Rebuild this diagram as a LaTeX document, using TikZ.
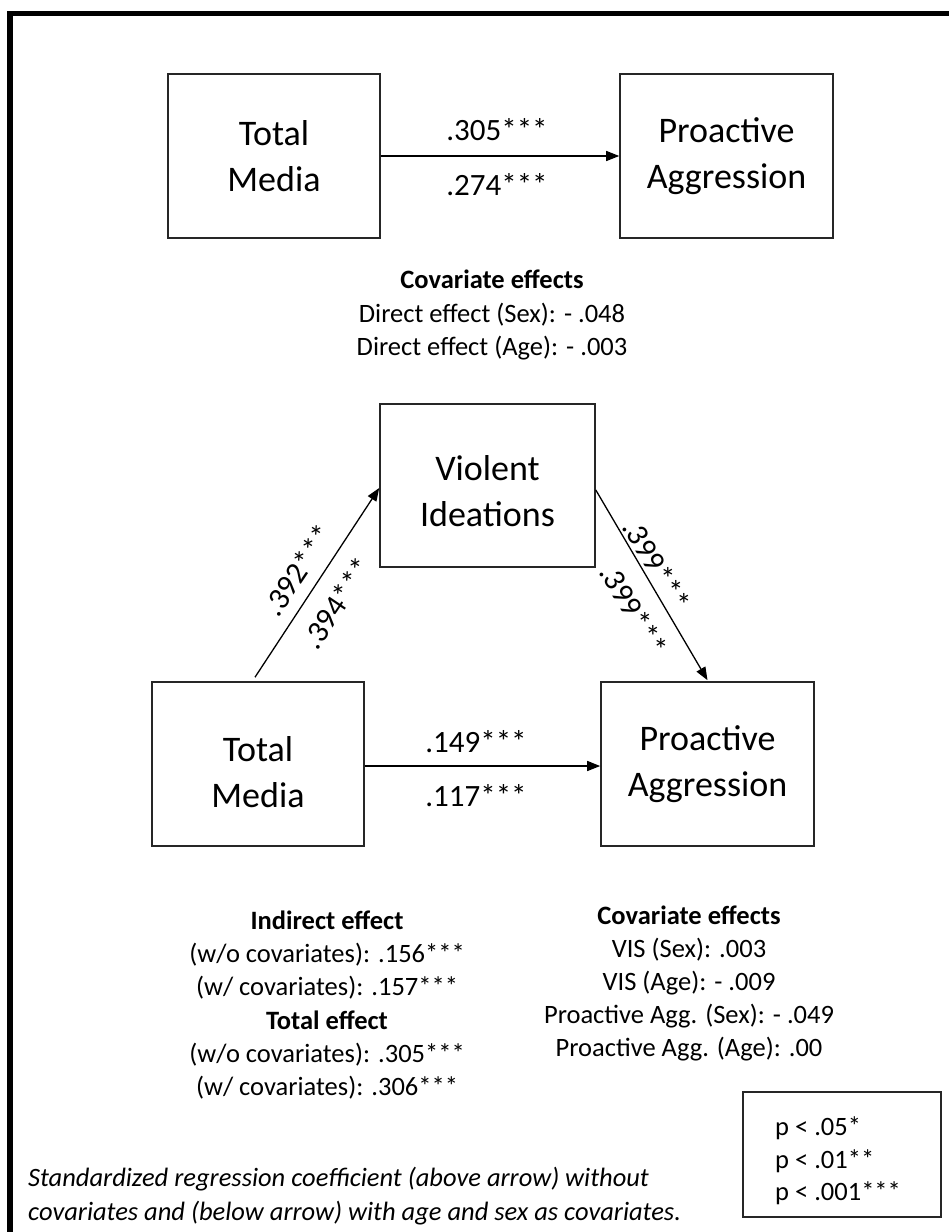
\documentclass[tikz,border=0pt]{standalone}
\usepackage{fontspec}
\setmainfont{Carlito}
\usetikzlibrary{arrows.meta}
\begin{document}
\begin{tikzpicture}[x=1pt,y=-1pt,
  box/.style={draw=black!85, line width=1.6pt, minimum width=212pt, minimum height=164pt,
    align=center, inner sep=0pt, font=\fontsize{36}{46}\selectfont},
  pathline/.style={-{Triangle[length=13pt,width=10pt]}, line width=1.3pt},
  coef/.style={inner sep=0pt, font=\fontsize{31}{36}\selectfont},
  note/.style={align=center, inner sep=0pt, font=\fontsize{26.5}{33.2}\selectfont}]
\useasboundingbox (0,0) rectangle (949,1232);
% outer frame (top and left edges)
\draw[line width=5.5pt, line join=miter] (10,1232) -- (10,13.7) -- (949,13.7);

% ---- total effect model ----
\node[box] (tm1) at (274,156) {Total\\Media};
\node[box, minimum width=213pt] (pa1) at (726.5,156) {Proactive\\Aggression};
\draw[pathline] (tm1.east) -- (pa1.west);
\node[coef] (c1a) at (497,130) {.305***};
\node[coef] (c1b) at (497,185) {.274***};
\node[note] (cov1) at (492,315) {\textbf{Covariate effects}\\Direct effect (Sex): - .048\\Direct effect (Age): - .003};

% ---- mediation model ----
\node[box, minimum width=215pt, minimum height=163pt] (vi) at (487.5,485.5) {\rule{0pt}{36pt}Violent\\Ideations};
\node[box] (tm2) at (258,764) {\rule{0pt}{42pt}Total\\Media};
\node[box, minimum width=213pt] (pa2) at (707.5,764) {Proactive\\Aggression};
\draw[pathline] ([xshift=-3pt,yshift=4pt]tm2.north) -- ([yshift=-2.5pt]vi.west);
\draw[pathline] ([yshift=-4.5pt]vi.east) -- ([yshift=1pt]pa2.north);
\draw[pathline] ([yshift=-2pt]tm2.east) -- ([yshift=-2pt]pa2.west);
\node[coef, rotate=56] (c2a) at (298,570) {.392***};
\node[coef, rotate=56] (c2b) at (337,603) {.394***};
\node[coef, rotate=-59] (c3a) at (657,565) {.399***};
\node[coef, rotate=-59] (c3b) at (634,610) {.399***};
\node[coef] (c4a) at (476,742) {.149***};
\node[coef] (c4b) at (476,796) {.117***};

\node[note] (ind) at (327,1005) {\textbf{Indirect effect}\\(w/o covariates): .156***\\(w/ covariates): .157***\\\textbf{Total effect}\\(w/o covariates): .305***\\(w/ covariates): .306***};
\node[note] (cov2) at (689,983.5) {\textbf{Covariate effects}\\VIS (Sex): .003\\VIS (Age): - .009\\Proactive Agg. (Sex): - .049\\Proactive Agg. (Age): .00};

% significance key
\node[draw=black!85, line width=1.6pt, minimum width=198pt, minimum height=125pt, inner sep=0pt] (key) at (842,1154.5) {};
\node[anchor=west, align=left, inner sep=0pt, font=\fontsize{26.5}{32.5}\selectfont] (keytext) at (775,1161) {p < .05*\\p < .01**\\p < .001***};

% footnote
\node[anchor=west, align=left, inner sep=0pt, font=\fontsize{26.5}{34}\selectfont\itshape] (foot) at (28,1196) {Standardized regression coefficient (above arrow) without\\covariates and (below arrow) with age and sex as covariates.};
\end{tikzpicture}
\end{document}
